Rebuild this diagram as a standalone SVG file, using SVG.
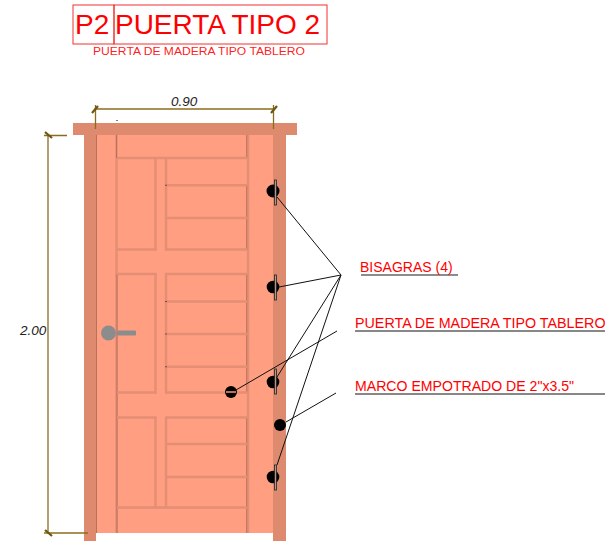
<svg xmlns="http://www.w3.org/2000/svg" width="605" height="541" viewBox="0 0 605 541">
<style>
.t{font-family:"Liberation Sans",Arial,sans-serif;fill:#ff0000}
.d{font-family:"Liberation Sans",Arial,sans-serif;font-style:italic;font-size:13.500px;fill:#222}
.frame{fill:#dd8a6e}
.p{fill:none;stroke:#e48e74;stroke-width:2.400}
.s{fill:none;stroke:#b5735e;stroke-width:1}
.dim{fill:none;stroke:#8a6d1c;stroke-width:1.300}
.tick{fill:none;stroke:#6e5512;stroke-width:2.200}
.lead{fill:none;stroke:#111;stroke-width:1}
.box{fill:none;stroke:#f03030;stroke-width:1}
.plate{fill:#b59684;stroke:#222;stroke-width:.8}
</style>
<rect width="605" height="541" fill="#fff"/>
<g id="title">
<rect class="box" x="73" y="5" width="41" height="39"/>
<rect class="box" x="114" y="5" width="213" height="39"/>
<text class="t" x="75" y="34" font-size="28">P2</text>
<text class="t" x="115" y="34" font-size="28" textLength="205" lengthAdjust="spacing">PUERTA TIPO 2</text>
<text class="t" x="93" y="55" font-size="11.400" fill-opacity=".9" textLength="212" lengthAdjust="spacingAndGlyphs">PUERTA DE MADERA TIPO TABLERO</text>
</g>
<g id="door">
<rect x="96" y="135" width="177" height="398" fill="#ff9e80"/>
<rect class="frame" x="84" y="135" width="12" height="406"/>
<rect class="frame" x="273" y="135" width="13" height="406"/>
<path class="p" d="M116.500 135V533M248 135V533"/>
<rect class="frame" x="73" y="123" width="224" height="12"/>
<path class="s" d="M116.500 135V158M117 274V533M246.700 135V158M246.700 185V250M246.700 274V392M246.700 418V533M96.500 135V533"/>
<path class="p" d="M117 158H247M117 249.500H156.500M165 249.500H247M117 274H156.500M165 274H247M117 392.500H156.500M165 392.500H247M117 417.500H156.500M165 417.500H247M117 507.500H247"/>
<path class="p" d="M155.500 158V250.500M166 158V250.500M155.500 273V393.500M166 273V393.500M155.500 417V507M166 417V507"/>
<path class="p" d="M166 185.300H247M166 218H247M166 301.500H247M166 334H247M166 366.800H247M166 444H247M166 477H247"/>
<path d="M166 184.800v1M166 301v1M166 333.500v1M166 366.300v1M117 120v1" stroke="#222" stroke-width="1.200" fill="none"/>
</g>
<g id="handle" fill="#8c8c8c">
<circle cx="108.500" cy="333" r="7.500"/>
<rect x="117" y="330.500" width="19" height="5" rx="1"/>
</g>
<g id="hinges">
<circle cx="273" cy="191" r="6.500"/><rect class="plate" x="274.500" y="180" width="2" height="25"/>
<circle cx="273" cy="287" r="6.300"/><rect class="plate" x="274.500" y="275" width="2" height="25"/>
<circle cx="273" cy="382" r="6.300"/><rect class="plate" x="274.500" y="369" width="2" height="25"/>
<circle cx="273" cy="477" r="6.300"/><rect class="plate" x="274.500" y="465" width="2" height="25"/>
</g>
<g id="screws">
<circle cx="280" cy="425" r="6"/>
<circle cx="231" cy="392" r="6"/><rect x="226" y="391" width="10" height="2" fill="#b9735c"/>
</g>
<g id="connectors">
<path class="lead" d="M277 197L341 275M279 287L341 275M277 377L341 275M277 465L341 275"/>
<path class="lead" d="M236 390L337 331M286 422L336 393"/>
<path d="M361 275H458" fill="none" stroke="#666" stroke-width="1.500"/>
<path class="lead" d="M355 331H605M355 394H605"/>
</g>
<g id="dimensions">
<path class="dim" d="M95 109H274M95.500 105V129M273.500 105V129"/>
<path class="dim" d="M48 135V533M44 533H88M44 135.500H67"/>
<path class="tick" d="M92 113L98 106M271 113L277 106M45 530L52 536M45 132L52 138"/>
<text class="d" x="171" y="106">0.90</text>
<text class="d" x="20" y="335">2.00</text>
</g>
<g id="labels">
<text class="t" x="360" y="272" font-size="14">BISAGRAS (4)</text>
<text class="t" x="355" y="328" font-size="14.300">PUERTA DE MADERA TIPO TABLERO</text>
<text class="t" x="355" y="391" font-size="14.100">MARCO EMPOTRADO DE 2"x3.5"</text>
</g>
</svg>
